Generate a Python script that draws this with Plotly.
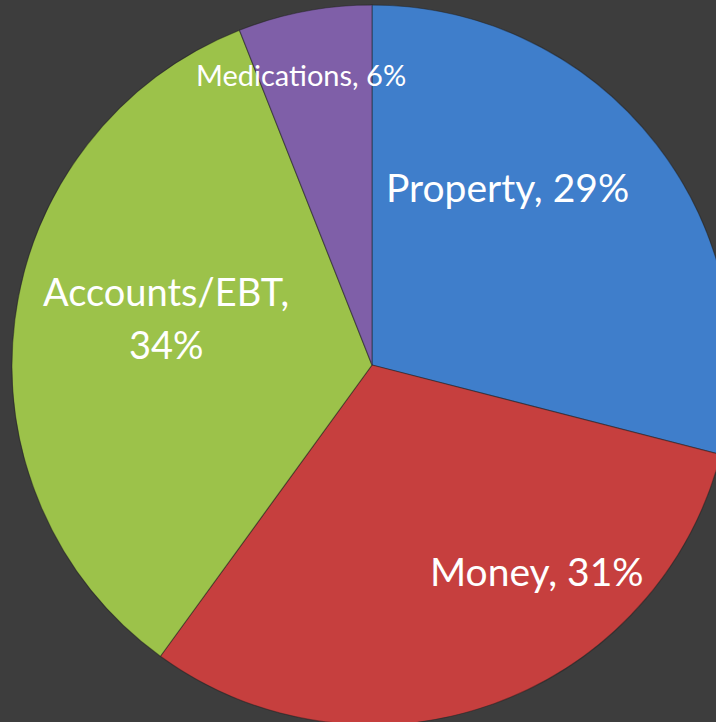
import plotly.graph_objects as go

categories = ["Property", "Money", "Accounts/EBT", "Medications"]
values = [29, 31, 34, 6]
colors = ["#3f7ecb", "#c63f3e", "#9cc24a", "#7f5fa8"]

W, H = 732, 725
CX, CY, R = 372, 365, 360

fig = go.Figure(go.Pie(
    labels=categories,
    values=values,
    sort=False,
    direction="clockwise",
    rotation=0,
    textinfo="none",
    hoverinfo="label+percent",
    marker=dict(colors=colors, line=dict(color="rgba(30,30,30,0.45)", width=1.2)),
    domain=dict(x=[(CX - R) / W, (CX + R) / W], y=[1 - (CY + R) / H, 1 - (CY - R) / H]),
    showlegend=False,
))

# label placement: list of (text line, pixel x, pixel y, font size) per category
total = sum(values)
pcts = [round(100 * v / total) for v in values]
label_lines = {
    "Property": [(f"Property, {pcts[0]}%", 507, 187, 39)],
    "Money": [(f"Money, {pcts[1]}%", 537, 571, 39)],
    "Accounts/EBT": [("Accounts/EBT,", 166, 291, 38), (f"{pcts[2]}%", 166, 344, 38)],
    "Medications": [(f"Medications, {pcts[3]}%", 301, 74, 29)],
}
for cat in categories:
    for txt, px, py, fs in label_lines[cat]:
        fig.add_annotation(
            x=px / W, y=1 - py / H, xref="paper", yref="paper",
            text=txt, showarrow=False, xanchor="center", yanchor="middle",
            font=dict(family="Lato", size=fs, color="white"),
        )

fig.update_layout(
    width=W, height=H,
    margin=dict(l=0, r=0, t=0, b=0),
    paper_bgcolor="#3d3d3d",
    plot_bgcolor="#3d3d3d",
)

fig.write_html(
    "out.html",
    config={"displayModeBar": False},
    post_script="document.body.style.margin='0';document.body.style.overflow='hidden';document.body.style.background='#3d3d3d';",
)
